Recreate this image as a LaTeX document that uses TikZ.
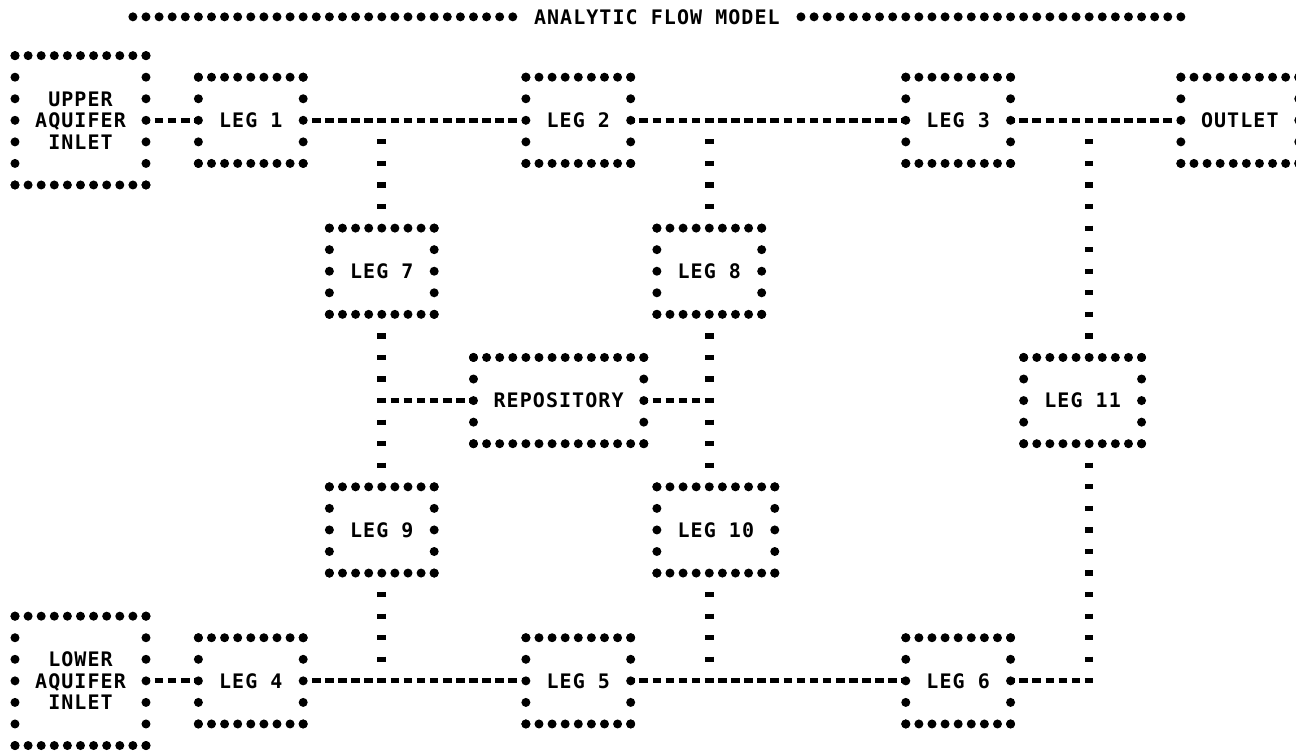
\documentclass[tikz,border=0pt]{standalone}
\usepackage{fontspec}
\newfontfamily\lpfont[LetterSpace=5.3]{DejaVu Sans Mono}
\newcommand\lpbox[6]{%
  \node[lptext, minimum width={(#3-#2)*6.55pt}, minimum height={(#5-#4)*10.78pt}] (#1) at ({(#2+#3)/2},{(#4+#5)/2}) {#6};
  \foreach \c in {#2,...,#3} {\fill (\c,#4) circle[radius=2.25pt]; \fill (\c,#5) circle[radius=2.25pt];}
  \foreach \r in {#4,...,#5} {\fill (#2,\r) circle[radius=2.25pt]; \fill (#3,\r) circle[radius=2.25pt];}
}
\begin{document}
\begin{tikzpicture}[x=6.55pt, y=-10.78pt,
  lptext/.style={inner sep=0pt, outer sep=0pt, align=center,
    font=\lpfont\bfseries\fontsize{10pt}{10.78pt}\selectfont},
  hconn/.style={line width=2.6pt, dash pattern=on 4.3pt off 2.25pt, dash phase=2.15pt},
  vconn/.style={line width=4.3pt, dash pattern=on 2.6pt off 8.18pt, dash phase=2.6pt, shorten <=1.3pt, shorten >=1.3pt}]
\useasboundingbox (-1.145,-0.58) rectangle (97.79,34.21);
\fill[white] (-1.145,-0.58) rectangle (97.79,34.21);
\clip (-1.145,-0.58) rectangle (97.79,34.21);
% title
\node[lptext] (title) at (49,0.2) {ANALYTIC FLOW MODEL};
\foreach \c in {9,...,38} {\fill (\c,0.2) circle[radius=2.25pt];}
\foreach \c in {60,...,89} {\fill (\c,0.2) circle[radius=2.25pt];}
% boxes
\lpbox{upper}{0}{10}{2}{8}{UPPER\\AQUIFER\\INLET}
\lpbox{leg1}{14}{22}{3}{7}{LEG 1}
\lpbox{leg2}{39}{47}{3}{7}{LEG 2}
\lpbox{leg3}{68}{76}{3}{7}{LEG 3}
\lpbox{outlet}{89}{98}{3}{7}{OUTLET}
\lpbox{leg7}{24}{32}{10}{14}{LEG 7}
\lpbox{leg8}{49}{57}{10}{14}{LEG 8}
\lpbox{repo}{35}{48}{16}{20}{REPOSITORY}
\lpbox{leg11}{77}{86}{16}{20}{LEG 11}
\lpbox{leg9}{24}{32}{22}{26}{LEG 9}
\lpbox{leg10}{49}{58}{22}{26}{LEG 10}
\lpbox{lower}{0}{10}{28}{34}{LOWER\\AQUIFER\\INLET}
\lpbox{leg4}{14}{22}{29}{33}{LEG 4}
\lpbox{leg5}{39}{47}{29}{33}{LEG 5}
\lpbox{leg6}{68}{76}{29}{33}{LEG 6}
% junctions
\coordinate (j1) at (28,5);
\coordinate (j2) at (53,5);
\coordinate (j3) at (82,5);
\coordinate (j4) at (28,31);
\coordinate (j5) at (53,31);
\coordinate (j6) at (82,31);
\coordinate (j7) at (28,18);
\coordinate (j8) at (53,18);
% horizontal connectors
\draw[hconn] (upper.east) -- (leg1.west);
\draw[hconn] (leg1.east) -- (leg2.west);
\draw[hconn] (leg2.east) -- (leg3.west);
\draw[hconn] (leg3.east) -- (outlet.west);
\draw[hconn] (lower.east) -- (leg4.west);
\draw[hconn] (leg4.east) -- (leg5.west);
\draw[hconn] (leg5.east) -- (leg6.west);
\draw[hconn, shorten >=-2.2pt] (leg6.east) -- (j6);
\draw[hconn] (j7) -- (repo.west);
\draw[hconn] (repo.east) -- (j8);
% vertical connectors
\draw[vconn] (j1) -- (leg7.north);
\draw[vconn] (j2) -- (leg8.north);
\draw[vconn] (j3) -- (j3 |- leg11.north);
\draw[vconn] (leg7.south) -- (leg9.north);
\draw[vconn] (leg8.south) -- (j8 |- leg10.north);
\draw[vconn] (leg9.south) -- (j4);
\draw[vconn] (j5 |- leg10.south) -- (j5);
\draw[vconn] (j3 |- leg11.south) -- (j6);
\end{tikzpicture}
\end{document}
